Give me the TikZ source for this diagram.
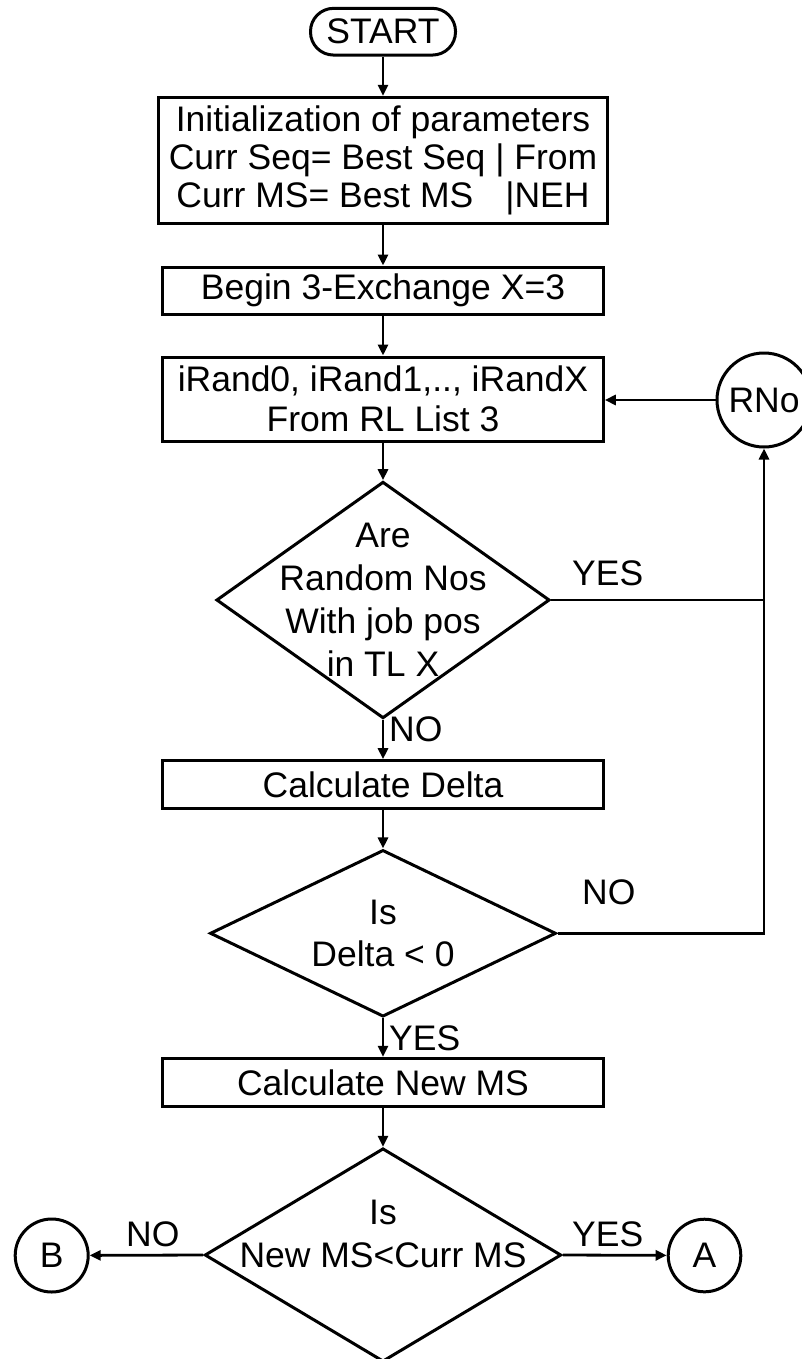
\documentclass[tikz,border=0pt]{standalone}
\usepackage{fontspec}
\setmainfont{Liberation Sans}
\usetikzlibrary{arrows.meta,shapes.geometric}

\begin{document}
\begin{tikzpicture}[x=1pt,y=-1pt,
  every node/.style={font=\fontsize{35.5}{40}\selectfont, inner sep=0pt},
  termbox/.style={draw, line width=3pt, rounded corners=23pt,
    minimum width=145pt, minimum height=46.7pt},
  procbox/.style={draw, line width=3pt, rectangle, minimum width=440.6pt, align=center},
  decision/.style={draw, line width=3pt, diamond, inner sep=0pt},
  connector/.style={draw, line width=3pt, circle},
  inside/.style={align=center},
  flow/.style={line width=2.8pt, -{Triangle[length=11pt,width=10pt]}},
  link/.style={line width=2.8pt},
  lbl/.style={anchor=base west}]

\useasboundingbox (0,0) rectangle (802,1359);
\clip (0,0) rectangle (802,1359);

% main column
\node[termbox] (start) at (383,31.7) {START};
\node[procbox, minimum width=448.4pt, minimum height=125.7pt,
      font=\fontsize{35.5}{38}\selectfont] (init) at (383,160.2)
  {Initialization of parameters\\Curr Seq= Best Seq | From\\Curr MS= Best MS\hspace{32pt}|NEH};
\node[procbox, minimum height=47pt] (exch) at (383,290.5) {Begin 3-Exchange X=3};
\node[procbox, minimum height=84pt] (pick) at (383,399)
  {iRand0, iRand1,.., iRandX\\From RL List 3};

\node[decision, minimum width=333.3pt, minimum height=236.6pt] (tabu) at (383,600) {};
\node[inside, font=\fontsize{35.5}{43}\selectfont] (tabutext) at (383,600)
  {Are\\Random Nos\\With job pos\\in TL X};

\node[procbox, minimum height=47.6pt] (delta) at (383,784.5) {Calculate Delta};

\node[decision, minimum width=346pt, minimum height=166.7pt] (improve) at (383,933.3) {};
\node[inside, font=\fontsize{35.5}{41.7}\selectfont] (improvetext) at (383,933.3)
  {Is\\Delta < 0};

\node[procbox, minimum height=48.4pt] (newms) at (383,1082.5) {Calculate New MS};

\node[decision, minimum width=356.6pt, minimum height=213.4pt] (better) at (383,1255) {};
\node[inside, font=\fontsize{35.5}{43.3}\selectfont] (bettertext) at (383,1234)
  {Is\\New MS<Curr MS};

% connectors (circles)
\node[connector, minimum size=94pt] (rno) at (764,400) {RNo};
\node[connector, minimum size=73pt] (b) at (51.7,1255.5) {B};
\node[connector, minimum size=72.6pt] (a) at (704.5,1255.5) {A};

% flow lines
\draw[flow] (start) -- (init);
\draw[flow] (init) -- (exch);
\draw[flow] (exch) -- (pick);
\draw[flow] (pick) -- (tabu);
\draw[flow] (tabu) -- (delta);
\draw[flow] (delta) -- (improve);
\draw[flow] (improve) -- (newms);
\draw[flow] (newms) -- (better);
\draw[flow] (rno) -- (pick.east |- rno);
\draw[link] (tabu.east) -- (tabu.east -| rno);
\draw[flow] (improve.east) -| (rno.south);
\draw[flow] (better.west) -- (b);
\draw[flow] (better.east) -- (a);

% branch labels
\node[lbl] (yes1) at (572,585) {YES};
\node[lbl] (no1) at (389,741.7) {NO};
\node[lbl] (no2) at (582,904) {NO};
\node[lbl] (yes2) at (389,1050) {YES};
\node[lbl] (no3) at (126,1246.7) {NO};
\node[lbl] (yes3) at (572,1246.7) {YES};
\end{tikzpicture}
\end{document}
